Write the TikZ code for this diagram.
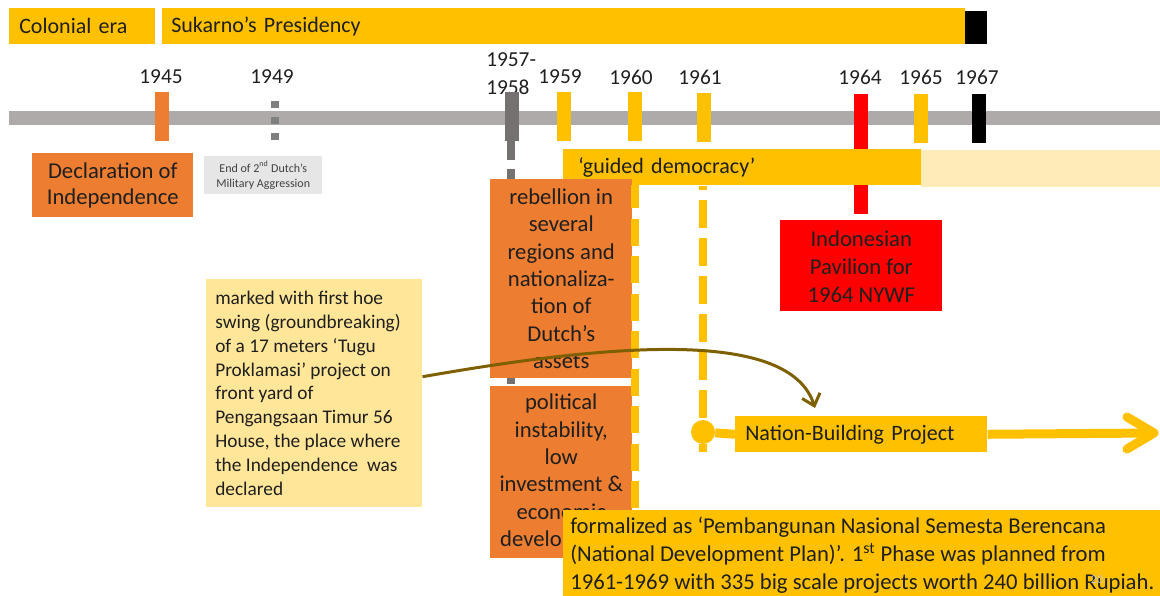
\documentclass[tikz,border=0pt]{standalone}
\usepackage{fontspec}
\setmainfont{Carlito}
\usetikzlibrary{arrows.meta,calc}
\definecolor{gold}{HTML}{FFC000}
\definecolor{orng}{HTML}{ED7D31}
\definecolor{lgold}{HTML}{FFE699}
\definecolor{pgold}{HTML}{FFEBB7}
\definecolor{tgray}{HTML}{AEAAAA}
\definecolor{dgray}{HTML}{767171}
\definecolor{mgray}{HTML}{7F7F7F}
\definecolor{sgray}{HTML}{E7E6E6}
\definecolor{olive}{HTML}{7F6000}
\definecolor{txt}{HTML}{1F1F1F}
\newcommand\fsz[2]{\fontsize{#1}{#2}\selectfont}
\begin{document}
\begin{tikzpicture}[x=0.75pt,y=-0.75pt,
  every node/.style={text=txt},
  box/.style={draw=none, inner sep=0pt, anchor=north west},
  wh/.style 2 args={minimum width=#1*0.75pt, minimum height=#2*0.75pt},
  yr/.style={font=\fsz{16}{21}, inner sep=0pt},
  dashln/.style={gold, line width=6pt},
]
\useasboundingbox (0,0) rectangle (1160,596);
% top era bars
\node[box, fill=gold, wh={146}{36}, text width=94.5pt, inner xsep=7.5pt, align=left, font=\fsz{16.5}{20}] (col) at (9,8) {Colonial era};
\node[box, fill=gold, wh={803}{36}, text width=588.75pt, inner xsep=6.75pt, align=left, font=\fsz{16.5}{20}] (suk) at (162,8) {Sukarno’s Presidency};
\node[box, fill=black, wh={22}{33}] (blk) at (965,11) {};
% timeline
\fill[tgray] (9,111) rectangle (1160,125);
% year labels
\node[yr] (y45) at (161,77) {1945};
\node[yr] (y49) at (272,77) {1949};
\node[yr, anchor=west, align=left] (y57) at (486,74) {1957-\\1958};
\node[yr] (y59) at (560,77) {1959};
\node[yr] (y60) at (631,77) {1960};
\node[yr] (y61) at (700,77) {1961};
\node[yr] (y64) at (860,77) {1964};
\node[yr] (y65) at (921,77) {1965};
\node[yr] (y67) at (977,77) {1967};
% ticks
\fill[orng] (155,92) rectangle (169,141);
\draw[mgray, line width=6pt, dash pattern=on 5.25pt off 6.75pt] (275,101) -- (275,141);
\draw[dgray, line width=6pt, dash pattern=on 14.25pt off 6.75pt] (511,141) -- (511,393);
\fill[dgray] (505,92) rectangle (519,141);
\fill[gold] (557,92) rectangle (571,141);
\fill[gold] (628,92) rectangle (642,141);
\fill[gold] (697,93) rectangle (711,142);
\fill[red] (854,94) rectangle (868,214);
\fill[gold] (914,94) rectangle (928,143);
\fill[black] (972,94) rectangle (986,143);
% boxes below timeline
\node[box, fill=orng, wh={161}{64}] (db) at (32,153) {};
\node[font=\fsz{17}{19.5}, align=center, inner sep=0pt] (dbt) at (db.center) {Declaration of\\Independence};
\node[box, fill=sgray, wh={118}{38}] (sb) at (204,156) {};
\node[font=\fsz{9}{11.2}, align=center, inner sep=0pt, text=black!75] (sbt) at (sb.center) {End of 2\textsuperscript{nd} Dutch’s\\Military Aggression};
% guided democracy
\fill[pgold] (921,150) rectangle (1160,187);
\node[box, fill=gold, wh={358}{36}, text width=246pt, inner xsep=11.25pt, align=left, font=\fsz{16.5}{20}] (gd) at (563,149) {‘guided democracy’};
% orange event boxes
\node[box, fill=orng, wh={142}{199}] (ob1) at (490,179) {};
\node[font=\fsz{17}{20.5}, align=center, inner sep=0pt] (ob1t) at (ob1.center) {rebellion in\\several\\regions and\\nationaliza-\\tion of\\Dutch’s\\assets};
\node[box, fill=orng, wh={142}{172}] (ob2) at (490,386) {};
\node[font=\fsz{17}{20.5}, align=center, inner sep=0pt] (ob2t) at (ob2.center) {political\\instability,\\low\\investment \&\\economic\\development};
% dashed year lines
\draw[dashln, dash pattern=on 20.25pt off 7.9pt, dash phase=3pt] (635,185) -- (635,512);
\node[circle, fill=gold, minimum size=18pt, inner sep=0pt] (nbc) at (703,432) {};
\draw[dashln, dash pattern=on 21pt off 7.5pt, dash phase=18pt] (gd.south -| nbc) -- (nbc);
\draw[dashln] (nbc) -- (703,452);
% nation-building
\node[box, fill=gold, wh={252}{36}, text width=174pt, inner xsep=7.5pt, align=left, font=\fsz{16.5}{20}] (nb) at (735,416) {Nation-Building Project};
\draw[gold, line width=6.75pt] (nbc) -- (nb.west);
\coordinate (tip) at (1154,433);
\draw[gold, line width=6.75pt] (nb.east) -- (tip);
\draw[gold, line width=6.75pt, line cap=round, line join=round] (tip) ++(-27,-16) -- (tip) -- ++(-27,16);
% red pavilion
\node[box, fill=red, wh={162}{91}] (rb) at (780,220) {};
\node[font=\fsz{17}{21}, align=center, inner sep=0pt] (rbt) at ([yshift=-1pt]rb.center) {Indonesian\\Pavilion for\\1964 NYWF};
% note box
\node[box, fill=lgold, wh={216}{228}] (lb) at (206,279) {};
\node[font=\fsz{14.5}{17.9}, align=left, anchor=west, inner sep=0pt] (lbt) at ([xshift=6.75pt]lb.west) {marked with first hoe\\swing (groundbreaking)\\of a 17 meters ‘Tugu\\Proklamasi’ project on\\front yard of\\Pengangsaan Timur 56\\House, the place where\\the Independence\ \ was\\declared};
\draw[olive, line width=2.25pt, -{Straight Barb[length=8pt,width=14pt]}] ([yshift=12.4pt]lb.east) .. controls (620,342) and (790,330) .. ($(nb.north west)+(80,-8)$);
% formalized box
\node[box, fill=gold, wh={597}{86}] (fb) at (563,510) {};
\node[font=\fsz{17}{21}, align=left, anchor=west, inner sep=0pt] (fbt) at ([xshift=5.25pt,yshift=-1.5pt]fb.west) {formalized as ‘Pembangunan Nasional Semesta Berencana\\(National Development Plan)’. 1\textsuperscript{st} Phase was planned from\\1961-1969 with 335 big scale projects worth 240 billion Rupiah.};
\node[font=\fsz{9}{10}, text=black!22, inner sep=0pt] (pg) at (1097,580) {20};
\end{tikzpicture}
\end{document}
